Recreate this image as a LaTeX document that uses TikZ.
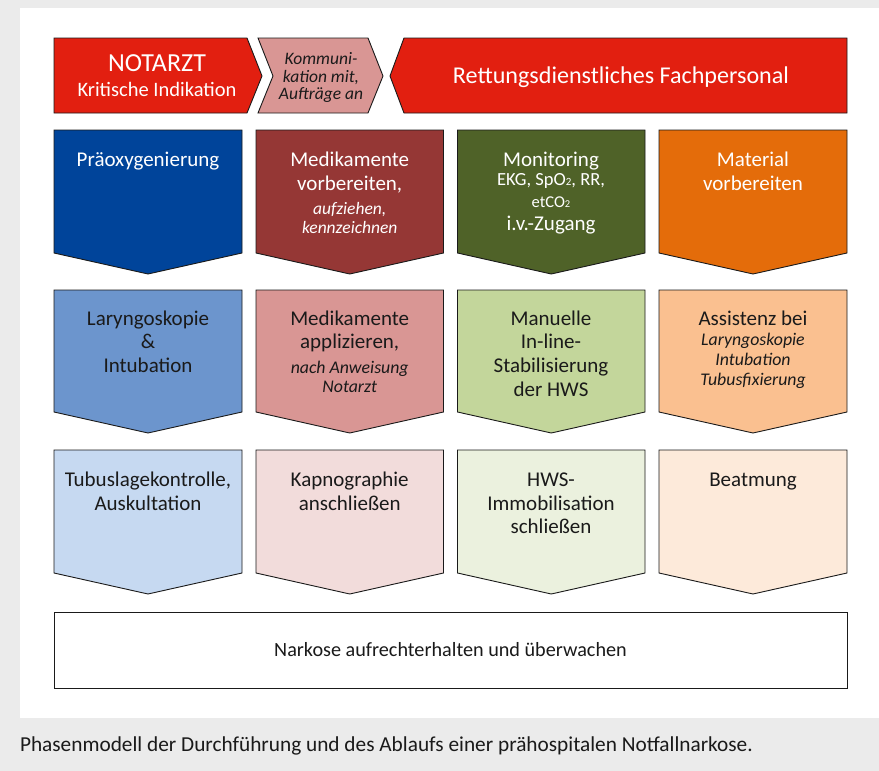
\documentclass[tikz,border=0pt]{standalone}
\usepackage{fontspec}
\setmainfont{Carlito}
\definecolor{bggrey}{HTML}{EBEBEB}
\definecolor{topred}{HTML}{E21F10}
\definecolor{kompink}{HTML}{D99694}
\definecolor{dblue}{HTML}{00449A}
\definecolor{dred}{HTML}{953735}
\definecolor{dgreen}{HTML}{4F6228}
\definecolor{dorange}{HTML}{E46C0A}
\definecolor{mblue}{HTML}{6C95CD}
\definecolor{mpink}{HTML}{D99694}
\definecolor{mgreen}{HTML}{C3D69B}
\definecolor{morange}{HTML}{FAC090}
\definecolor{lblue}{HTML}{C6D9F1}
\definecolor{lpink}{HTML}{F2DCDB}
\definecolor{lgreen}{HTML}{EBF1DE}
\definecolor{lorange}{HTML}{FDEADA}
\definecolor{ink}{HTML}{1A1A1A}
\tikzset{
  shapebox/.style={draw=ink, line width=0.9pt, line join=miter},
  ln/.style={anchor=base, inner sep=0pt, outer sep=0pt},
  bigw/.style={ln, text=white, font=\fontsize{21}{25}\selectfont},
  smw/.style={ln, text=white, font=\fontsize{18.5}{21}\selectfont},
  itw/.style={ln, text=white, font=\fontsize{17.5}{20}\selectfont\itshape},
  bigk/.style={ln, text=ink, font=\fontsize{21}{25}\selectfont},
  itk/.style={ln, text=ink, font=\fontsize{17.8}{20}\selectfont\itshape},
  komm/.style={ln, text=ink, font=\fontsize{17.5}{20}\selectfont\itshape},
}
\newcommand\chev[5]{% x1 x2 top sidebottom tip
  (#1,#3) -- (#2,#3) -- (#2,#4) -- ({(#1+#2)/2},#5) -- (#1,#4) -- cycle}
\newcommand\subtwo{{\fontsize{11}{11}\selectfont 2}}
\begin{document}
\begin{tikzpicture}[x=1pt,y=-1pt]
\useasboundingbox (0,0) rectangle (879,771);
\fill[bggrey] (0,0) rectangle (879,771);
\fill[white] (20,8) rectangle (879,718);

% top row
\path[shapebox, fill=topred] (54,38) -- (247,38) -- (262,76) -- (247,113) -- (54,113) -- cycle;
\path[shapebox, fill=kompink] (258,38) -- (368,38) -- (383,76) -- (368,113) -- (258,113) -- (273,76) -- cycle;
\path[shapebox, fill=topred] (404,38) -- (847,38) -- (847,113) -- (404,113) -- (390,76) -- cycle;

\node[ln, text=white, font=\fontsize{26}{30}\selectfont] (na1) at (157,71.7) {NOTARZT};
\node[ln, text=white, font=\fontsize{20.5}{24}\selectfont] (na2) at (157,96) {Kritische Indikation};
\node[komm] (ko1) at (321,64) {Kommuni-};
\node[komm] (ko2) at (321,82) {kation mit,};
\node[komm] (ko3) at (321,99.5) {Aufträge an};
\node[ln, text=white, font=\fontsize{24.1}{28}\selectfont] (rd) at (621,83) {Rettungsdienstliches Fachpersonal};

% row 2
\path[shapebox, fill=dblue]   \chev{54}{242}{130}{253}{274};
\path[shapebox, fill=dred]    \chev{256}{443.5}{130}{253}{274};
\path[shapebox, fill=dgreen]  \chev{457.5}{645}{130}{253}{274};
\path[shapebox, fill=dorange] \chev{659}{847}{130}{253}{274};

\node[bigw] (p1) at (148,166.7) {Präoxygenierung};
\node[bigw] (m1) at (349.7,166.7) {Medikamente};
\node[bigw] (m2) at (349.7,190) {vorbereiten,};
\node[itw] (m3) at (349.7,214) {aufziehen,};
\node[itw] (m4) at (349.7,233) {kennzeichnen};
\node[bigw] (mo1) at (551,166.7) {Monitoring};
\node[smw] (mo2) at (551,185.7) {EKG, SpO\subtwo, RR,};
\node[ln, text=white, font=\fontsize{16.5}{19}\selectfont] (mo3) at (551,207) {etCO{\fontsize{10.5}{11}\selectfont 2}};
\node[bigw] (mo4) at (551,230) {i.v.-Zugang};
\node[bigw] (ma1) at (753,166.7) {Material};
\node[bigw] (ma2) at (753,190) {vorbereiten};

% row 3
\path[shapebox, fill=mblue]   \chev{54}{242}{290}{412}{433};
\path[shapebox, fill=mpink]   \chev{256}{443.5}{290}{412}{433};
\path[shapebox, fill=mgreen]  \chev{457.5}{645}{290}{412}{433};
\path[shapebox, fill=morange] \chev{659}{847}{290}{412}{433};

\node[bigk] (l1) at (148,325) {Laryngoskopie};
\node[bigk] (l2) at (148,348) {\&};
\node[bigk] (l3) at (148,372) {Intubation};
\node[bigk] (ap1) at (349.7,325) {Medikamente};
\node[bigk] (ap2) at (349.7,348) {applizieren,};
\node[itk] (ap3) at (349.7,373) {nach Anweisung};
\node[itk] (ap4) at (349.7,392) {Notarzt};
\node[bigk] (s1) at (551,325) {Manuelle};
\node[bigk] (s2) at (551,348) {In-line-};
\node[bigk] (s3) at (551,372) {Stabilisierung};
\node[bigk] (s4) at (551,396) {der HWS};
\node[bigk] (as1) at (753,325) {Assistenz bei};
\node[itk] (as2) at (753,345) {Laryngoskopie};
\node[itk] (as3) at (753,365) {Intubation};
\node[itk] (as4) at (753,385) {Tubusfixierung};

% row 4
\path[shapebox, fill=lblue]   \chev{54}{242}{450}{573}{594};
\path[shapebox, fill=lpink]   \chev{256}{443.5}{450}{573}{594};
\path[shapebox, fill=lgreen]  \chev{457.5}{645}{450}{573}{594};
\path[shapebox, fill=lorange] \chev{659}{847}{450}{573}{594};

\node[bigk] (t1) at (148,486.7) {Tubuslagekontrolle,};
\node[bigk] (t2) at (148,510) {Auskultation};
\node[bigk] (k1) at (349.7,486.7) {Kapnographie};
\node[bigk] (k2) at (349.7,510) {anschließen};
\node[bigk] (h1) at (551,486.7) {HWS-};
\node[bigk] (h2) at (551,510) {Immobilisation};
\node[bigk] (h3) at (551,533) {schließen};
\node[bigk] (b1) at (753,486.7) {Beatmung};

% bottom box
\path[shapebox, fill=white] (54,612) rectangle (847,688);
\node[ln, text=ink, font=\fontsize{20.2}{23}\selectfont] (nk) at (450.5,656.5) {Narkose aufrechterhalten und überwachen};

% caption
\node[ln, anchor=base west, text=ink, font=\fontsize{21.3}{24}\selectfont] (cap) at (20,751.5) {Phasenmodell der Durchführung und des Ablaufs einer prähospitalen Notfallnarkose.};
\end{tikzpicture}
\end{document}
